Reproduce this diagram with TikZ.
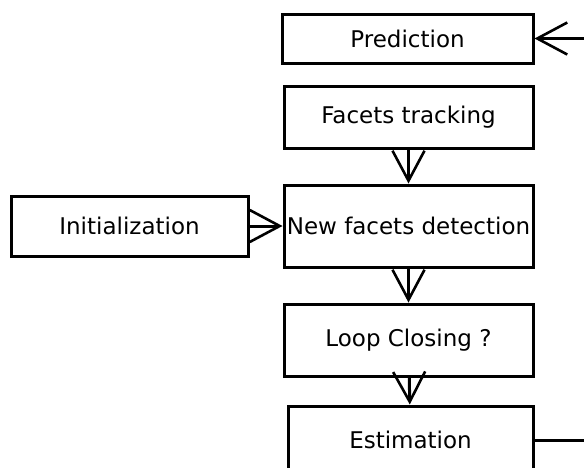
\documentclass[tikz,border=0pt]{standalone}
\usepackage{fontspec}
\setmainfont{DejaVu Sans}
\usetikzlibrary{arrows.meta}
\begin{document}
\begin{tikzpicture}[x=1pt,y=-1pt,
  stage/.style={draw, line width=3pt, inner sep=1pt, align=center,
    font=\fontsize{23}{28}\selectfont},
  flow/.style={line width=3pt, -{Straight Barb[length=30pt,width=32pt,line width=2.6pt]}}]
  \useasboundingbox (0,0) rectangle (584,467);
  \clip (0,0) rectangle (584,467);

  \node[stage, minimum width=251pt, minimum height=49pt] (pred)   at (407.5,38.5) {Prediction};
  \node[stage, minimum width=249pt, minimum height=62pt] (track)  at (408.5,117)  {Facets tracking};
  \node[stage, minimum width=249pt, minimum height=82pt] (detect) at (408.5,226)  {New facets detection};
  \node[stage, minimum width=237pt, minimum height=60pt] (init)   at (129.5,226)  {Initialization};
  \node[stage, minimum width=249pt, minimum height=72pt] (loop)   at (408.5,340)  {Loop Closing ?};
  \node[stage, minimum width=245pt, minimum height=68pt] (est)    at (410.5,440)  {Estimation};

  \draw[flow] (track) -- (detect);
  \draw[flow] (init) -- (detect);
  \draw[flow] (detect) -- (loop);
  \draw[flow] (loop) -- (est);
  % feedback loop from the estimate back to the prediction step
  \coordinate (back) at (640,440);
  \draw[flow] (est.east) -- (back) |- (pred.east);
\end{tikzpicture}
\end{document}
